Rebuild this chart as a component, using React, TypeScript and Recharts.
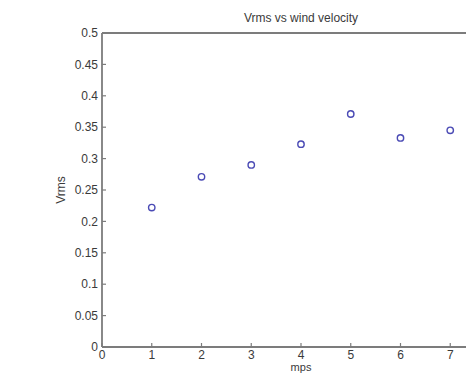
import React from "react";
import {
  ScatterChart,
  Scatter,
  XAxis,
  YAxis,
} from "recharts";

const speeds = [1, 2, 3, 4, 5, 6, 7];
const vrms = [0.222, 0.271, 0.29, 0.323, 0.371, 0.333, 0.345];

const xTicks = [0, 1, 2, 3, 4, 5, 6, 7, 8];
const yTicks = [0, 0.05, 0.1, 0.15, 0.2, 0.25, 0.3, 0.35, 0.4, 0.45, 0.5];

const points = speeds.map((s, i) => ({ x: s, y: vrms[i] }));

const FONT = "'Liberation Sans', Arial, sans-serif";
const AXIS = "#7c7c7c";
const TEXT = "#3a3a3a";
const MARKER = "#4b4bb5";

const Ring = (props: any) => (
  <circle
    cx={props.cx}
    cy={props.cy}
    r={3.2}
    fill="none"
    stroke={MARKER}
    strokeWidth={1.4}
  />
);

// the 8 at the far right falls outside the window, so leave it blank
const xLabel = (v: number) => (v === 8 ? "" : String(v));

export default function App() {
  return (
    <div
      style={{
        position: "fixed",
        left: 0,
        top: 0,
        width: 466,
        height: 373,
        overflow: "hidden",
        background: "#fff",
        fontFamily: FONT,
      }}
    >
      {/* title */}
      <div
        style={{
          position: "absolute",
          left: 201,
          width: 200,
          top: 11,
          textAlign: "center",
          fontSize: 12,
          color: TEXT,
          whiteSpace: "nowrap",
        }}
      >
        Vrms vs wind velocity
      </div>
      <ScatterChart
        width={520}
        height={390}
        margin={{ top: 32, right: 20, bottom: 3, left: 62 }}
        style={{ fontFamily: FONT }}
      >
        <XAxis
          xAxisId="top"
          orientation="top"
          type="number"
          dataKey="x"
          domain={[0, 8]}
          ticks={xTicks}
          interval={0}
          height={1}
          tickSize={-4}
          tickFormatter={() => ""}
          axisLine={{ stroke: AXIS, strokeWidth: 1.8 }}
          tickLine={{ stroke: AXIS, strokeWidth: 1.2 }}
        />
        <XAxis
          type="number"
          dataKey="x"
          domain={[0, 8]}
          ticks={xTicks}
          interval={0}
          height={40}
          tickSize={-4}
          tickMargin={7}
          tickFormatter={xLabel}
          tick={{ fill: TEXT, fontSize: 12 }}
          axisLine={{ stroke: AXIS, strokeWidth: 1.8 }}
          tickLine={{ stroke: AXIS, strokeWidth: 1.2 }}
          label={{
            value: "mps",
            position: "insideBottom",
            offset: 16,
            fill: TEXT,
            fontSize: 11,
          }}
        />
        <YAxis
          type="number"
          dataKey="y"
          domain={[0, 0.5]}
          ticks={yTicks}
          interval={0}
          width={40}
          tickSize={-4}
          tickMargin={8}
          tick={{ fill: TEXT, fontSize: 12 }}
          axisLine={{ stroke: AXIS, strokeWidth: 1.8 }}
          tickLine={{ stroke: AXIS, strokeWidth: 1.2 }}
          label={{
            value: "Vrms",
            angle: -90,
            position: "insideLeft",
            offset: -1,
            fill: TEXT,
            fontSize: 12,
            style: { textAnchor: "middle" },
          }}
        />
        <Scatter
          xAxisId={0}
          data={points}
          shape={Ring}
          isAnimationActive={false}
        />
      </ScatterChart>
    </div>
  );
}
